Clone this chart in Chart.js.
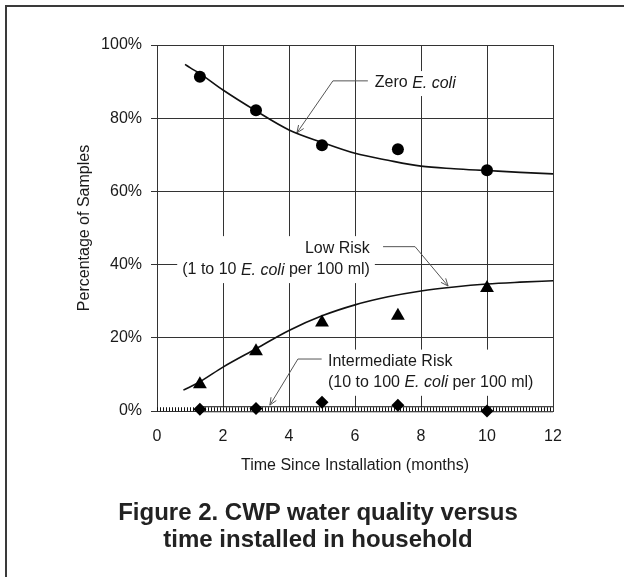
<!DOCTYPE html>
<html>
<head>
<meta charset="utf-8">
<script src="https://cdn.jsdelivr.net/npm/chart.js@4.4.0/dist/chart.umd.min.js"></script>
<style>
  html, body { margin: 0; padding: 0; background: #fff; }
  body { width: 624px; height: 577px; position: relative; overflow: hidden; font-family: "Liberation Sans", Arial, sans-serif; }
  #frame { position: absolute; left: 5px; top: 5px; width: 700px; height: 700px; border: 2px solid #3a3a3a; box-sizing: border-box; }
  #chart { position: absolute; left: 0; top: 0; }
  #caption { position: absolute; left: 18px; width: 600px; top: 498px; text-align: center; white-space: nowrap;
             font-weight: bold; font-size: 24px; line-height: 27px; color: #222; }
</style>
</head>
<body>
<div id="frame"></div>
<canvas id="chart" width="624" height="577"></canvas>
<div id="caption">Figure 2. CWP water quality versus<br>time installed in household</div>
<script>
// ========== Data ==========
const months = [1.3, 3, 5, 7.3, 10];
const zeroEcoli = [91.3, 82.2, 72.6, 71.5, 65.8];
const lowRisk = [7.3, 16.3, 24.2, 26.0, 33.6];
const intermediateRisk = [0.5, 0.7, 2.4, 1.6, 0];

// fitted curves
const zeroFitX = [0.85, 1, 1.3, 2, 3, 4, 5, 6, 7, 8, 9, 10, 11, 12];
const zeroFitY = [94.7, 93.8, 92.2, 87.7, 82.0, 76.8, 73.4, 70.4, 68.5, 66.9, 66.2, 65.7, 65.2, 64.8];
const lowFitX = [0.8, 1.3, 2, 3, 4, 5, 6, 7, 8, 9, 10, 11, 12];
const lowFitY = [5.7, 8.0, 12.0, 17.0, 22.0, 26.0, 29.0, 31.2, 32.8, 33.9, 34.7, 35.2, 35.6];
const midLineX = [0, 12];
const midBandX = [1.3, 12];
const midLevel = 0.5;

const xTicks = [0, 2, 4, 6, 8, 10, 12];
const yTicks = [0, 20, 40, 60, 80, 100];

const pts = (xs, ys) => xs.map((v, i) => ({ x: v, y: Array.isArray(ys) ? ys[i] : ys }));

// ========== Annotations (data units) ==========
const FONT = '"Liberation Sans", Arial, sans-serif';
const notes = [
  { at: [6.6, 89.6], align: 'left', lines: [[['Zero ', 0], ['E. coli', 1]]],
    arrow: [[6.39, 90.2], [5.33, 90.2], [4.24, 76.0]] },
  { at: [6.45, 44.5], align: 'right', gap: 6.0,
    lines: [[['Low Risk', 0]], [['(1 to 10 ', 0], ['E. coli', 1], [' per 100 ml)', 0]]],
    arrow: [[6.85, 44.9], [7.82, 44.9], [8.82, 34.15]] },
  { at: [5.18, 13.5], align: 'left', gap: 5.8,
    lines: [[['Intermediate Risk', 0]], [['(10 to 100 ', 0], ['E. coli', 1], [' per 100 ml)', 0]]],
    arrow: [[4.99, 14.2], [4.27, 14.2], [3.42, 1.6]] },
];

function runFont(italic) { return (italic ? 'italic ' : '') + '16px ' + FONT; }
function runsWidth(ctx, runs) {
  return runs.reduce((w, r) => { ctx.font = runFont(r[1]); return w + ctx.measureText(r[0]).width; }, 0);
}

const notesPlugin = {
  id: 'notes',
  beforeDatasetsDraw(chart) {
    const { ctx, scales: { x, y } } = chart;
    ctx.save();
    notes.forEach(n => {
      const px = x.getPixelForValue(n.at[0]);
      const rows = n.lines.map((runs, i) => ({ runs, w: runsWidth(ctx, runs), py: y.getPixelForValue(n.at[1] - i * (n.gap || 0)) }));
      const maxW = Math.max(...rows.map(r => r.w));
      const left = n.align === 'right' ? px - maxW : px;
      // white box hides the grid behind the label
      ctx.fillStyle = '#fff';
      ctx.fillRect(left - 5, rows[0].py - 12, maxW + 10, rows[rows.length - 1].py - rows[0].py + 25);
      ctx.fillStyle = '#1a1a1a';
      ctx.textBaseline = 'middle';
      ctx.textAlign = 'left';
      rows.forEach(r => {
        let cx = n.align === 'right' ? px - r.w : px;
        r.runs.forEach(run => {
          ctx.font = runFont(run[1]);
          ctx.fillText(run[0], cx, r.py);
          cx += ctx.measureText(run[0]).width;
        });
      });
      // leader + arrow head
      const p = n.arrow.map(a => [x.getPixelForValue(a[0]), y.getPixelForValue(a[1])]);
      ctx.strokeStyle = '#555';
      ctx.lineWidth = 1;
      ctx.beginPath();
      p.forEach((q, i) => i ? ctx.lineTo(q[0], q[1]) : ctx.moveTo(q[0], q[1]));
      const [ex, ey] = p[p.length - 1], [sx, sy] = p[p.length - 2];
      const ang = Math.atan2(ey - sy, ex - sx);
      ctx.moveTo(ex - 8 * Math.cos(ang - 0.4), ey - 8 * Math.sin(ang - 0.4));
      ctx.lineTo(ex, ey);
      ctx.lineTo(ex - 8 * Math.cos(ang + 0.4), ey - 8 * Math.sin(ang + 0.4));
      ctx.stroke();
    });
    ctx.restore();
  }
};

// ========== Chart ==========
Chart.defaults.font.family = FONT;
Chart.defaults.color = '#1a1a1a';

const marker = (data, style, r) => ({ data, pointStyle: style, pointRadius: r, backgroundColor: '#000', borderColor: '#000', borderWidth: 0, showLine: false, clip: false });
const curve = (data, width, color, dash) => ({ data, showLine: true, pointRadius: 0, borderColor: color, borderWidth: width, borderDash: dash || [], cubicInterpolationMode: 'monotone', fill: false, clip: false });

new Chart(document.getElementById('chart'), {
  type: 'scatter',
  data: {
    datasets: [
      marker(pts(months, zeroEcoli), 'circle', 6),
      marker(pts(months, lowRisk), 'triangle', 8),
      marker(pts(months, intermediateRisk), 'rectRot', 6.5),
      curve(pts(zeroFitX, zeroFitY), 1.6, '#111'),
      curve(pts(lowFitX, lowFitY), 1.6, '#111'),
      curve(pts(midLineX, midLevel), 4, '#111', [1, 2]),
      curve(pts(midBandX, midLevel), 4, '#fff'),
      curve(pts(midBandX, midLevel), 6, '#111'),
    ]
  },
  options: {
    responsive: false, animation: false,
    layout: { padding: { left: 75, top: 45, right: 71, bottom: 102 } },
    plugins: { legend: { display: false }, tooltip: { enabled: false } },
    scales: {
      x: {
        type: 'linear', min: xTicks[0], max: xTicks[xTicks.length - 1],
        afterBuildTicks: s => { s.ticks = xTicks.map(v => ({ value: v })); },
        afterFit: s => { s.height = 64; },
        ticks: { font: { size: 16 }, color: '#1a1a1a', padding: 16 },
        grid: { color: '#333', drawTicks: false },
        border: { color: '#333' },
        title: { display: true, text: 'Time Since Installation (months)', font: { size: 16 }, color: '#1a1a1a', padding: 0 }
      },
      y: {
        min: yTicks[0], max: yTicks[yTicks.length - 1],
        afterBuildTicks: s => { s.ticks = yTicks.map(v => ({ value: v })); },
        afterFit: s => { s.width = 82; },
        ticks: { font: { size: 16 }, color: '#1a1a1a', padding: 9, callback: v => v + '%' },
        grid: { color: '#333', tickLength: 6 },
        border: { color: '#333' },
        title: { display: true, text: 'Percentage of Samples', font: { size: 16 }, color: '#1a1a1a', padding: 0 }
      }
    }
  },
  plugins: [notesPlugin]
});
</script>
</body>
</html>
